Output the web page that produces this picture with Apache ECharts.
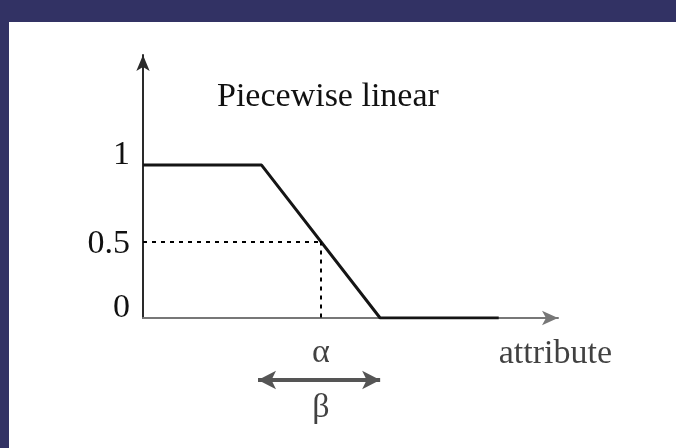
<!DOCTYPE html>
<html>
<head>
<meta charset="utf-8">
<script src="https://cdn.jsdelivr.net/npm/echarts@6/dist/echarts.min.js"></script>
<style>
  html, body { margin: 0; padding: 0; }
  #chart { width: 676px; height: 448px; }
</style>
</head>
<body>
<div id="chart"></div>
<script>
  // membership function: flat at 1, linear drop, flat at 0
  const xs = [0, 1, 2, 3];
  const ys = [1, 1, 0, 0];
  const yTicks = [0, 0.5, 1];
  const alphaPoint = [1.5, 0.5];
  const betaRange = [1, 2];
  const titleText = 'Piecewise linear';
  const xName = 'attribute';

  const serif = "'Liberation Serif', 'DejaVu Serif', serif";
  const myChart = echarts.init(document.getElementById('chart'));

  myChart.setOption({
    backgroundColor: '#323264',
    animation: false,
    title: {
      text: titleText,
      left: 212,
      top: 75,
      textStyle: { fontFamily: serif, fontSize: 34, fontWeight: 'normal', color: '#111' },
    },
    graphic: [
      { type: 'rect', z: -10, shape: { x: 9, y: 22, width: 667, height: 426 }, style: { fill: '#ffffff' } },
    ],
    grid: [
      { left: 143, right: 118, top: 55, bottom: 130 },
      { left: 143, right: 118, top: 330, height: 100 },
    ],
    xAxis: [
      {
        gridIndex: 0,
        type: 'value',
        min: 0,
        max: 3.5,
        axisLine: {
          lineStyle: { color: '#777', width: 2 },
          symbol: ['none', 'arrow'],
          symbolSize: [11, 16],
        },
        axisTick: { show: false },
        axisLabel: { show: false },
        splitLine: { show: false },
      },
      { gridIndex: 1, type: 'value', min: 0, max: 3.5, show: false },
    ],
    yAxis: [
      {
        gridIndex: 0,
        type: 'value',
        min: 0,
        max: 1.72,
        axisLine: {
          show: true,
          lineStyle: { color: '#2a2a2a', width: 2 },
          symbol: ['none', 'arrow'],
          symbolSize: [10, 16],
        },
        axisTick: { show: false },
        splitLine: { show: false },
        axisLabel: {
          customValues: yTicks,
          margin: 13,
          fontFamily: serif,
          fontSize: 34,
          color: '#111',
          formatter: function (value) {
            return value === 0.5 ? '{m|0.5}' : '{e|' + value + '}';
          },
          rich: {
            m: { fontFamily: serif, fontSize: 34, color: '#111', padding: [6, 0, 0, 0] },
            e: { fontFamily: serif, fontSize: 34, color: '#111', padding: [0, 0, 20, 0] },
          },
        },
      },
      { gridIndex: 1, type: 'value', min: 0, max: 1, show: false },
    ],
    series: [
      {
        type: 'line',
        xAxisIndex: 0,
        yAxisIndex: 0,
        data: xs.map((x, i) => [x, ys[i]]),
        symbol: 'none',
        lineStyle: { color: '#151515', width: 3 },
        z: 3,
        markLine: {
          silent: true,
          symbol: 'none',
          label: { show: false },
          lineStyle: { color: '#000', width: 2, type: [4, 5] },
          data: [
            [{ coord: [0, alphaPoint[1]] }, { coord: alphaPoint }],
            [{ coord: alphaPoint }, { coord: [alphaPoint[0], 0] }],
          ],
        },
      },
      {
        // double arrow for beta, alpha and beta labels
        type: 'scatter',
        xAxisIndex: 1,
        yAxisIndex: 1,
        symbolSize: 0,
        silent: true,
        data: [
          { value: [alphaPoint[0], 0.77], label: { formatter: 'α' } },
          { value: [alphaPoint[0], 0.22], label: { formatter: 'β' } },
          { value: [xs[3], 0.76], label: { formatter: xName, align: 'left' } },
        ],
        label: {
          show: true,
          position: 'inside',
          fontFamily: serif,
          fontSize: 34,
          color: '#111',
        },
        markLine: {
          silent: true,
          symbol: ['arrow', 'arrow'],
          symbolSize: [14, 18],
          label: { show: false },
          lineStyle: { color: '#555', width: 4, type: 'solid' },
          data: [[{ coord: [betaRange[0] - 0.03, 0.5] }, { coord: [betaRange[1], 0.5] }]],
        },
      },
    ],
  });

  window.addEventListener('resize', function () {
    myChart && myChart.resize();
  });
</script>
</body>
</html>
